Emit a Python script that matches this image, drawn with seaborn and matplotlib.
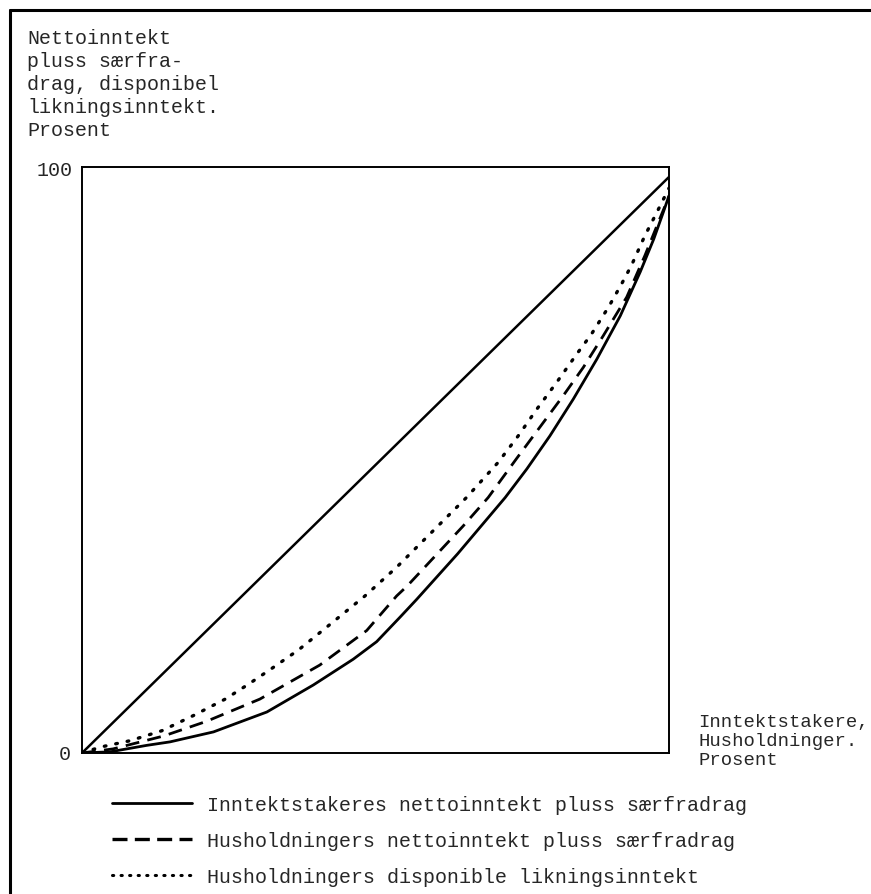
import matplotlib
matplotlib.use('Agg')
import matplotlib.pyplot as plt
import seaborn as sns
from matplotlib.lines import Line2D

# Lorenz curves, percent of earners/households vs percent of income
x_equal = [0, 100]
y_equal = [0, 98.3]

x_solid = [0, 4.8, 11.0, 15, 22.4, 31.5, 39.4, 46.2, 50.2, 54.2, 57.0, 64, 72.1, 75.8,
           79.7, 83.7, 87.7, 91.7, 95.1, 97.4, 99.0, 100]
y_solid = [0, 0.2, 1.3, 1.9, 3.6, 7.0, 11.6, 16.0, 19.0, 23.2, 26.2, 34.0, 43.6, 48.5,
           54.1, 60.4, 67.2, 74.6, 82.1, 87.7, 92.2, 95.1]

x_dash = [0, 5.3, 13.9, 21.2, 30.3, 40.5, 48.5, 53.6, 55.4, 64.9, 69.2, 74.0, 78.0,
          82.0, 85.4, 88.8, 92.8, 95.9, 98.2, 100]
y_dash = [0, 0.7, 2.9, 5.4, 9.2, 15.0, 20.9, 26.8, 28.5, 38.7, 43.6, 50.2, 55.6,
          61.0, 65.8, 71.2, 77.8, 84.9, 90.6, 95.0]

x_dot = [0, 3.1, 8.2, 13.6, 19.0, 24.4, 28.3, 32.0, 36.9, 42.2, 48.2, 53.6, 58.1, 65.5,
         70.9, 74.3, 77.5, 80.9, 84.3, 86.8, 89.7, 91.9, 93.6, 95.9, 97.9, 100]
y_dot = [0, 1.0, 2.1, 3.8, 6.4, 9.2, 11.7, 14.2, 17.6, 21.9, 26.8, 31.7, 36.2, 43.6,
         49.6, 54.1, 58.7, 63.3, 68.1, 71.5, 76.1, 80.0, 83.2, 88.3, 92.2, 96.4]

labels = ['Inntektstakeres nettoinntekt pluss særfradrag',
          'Husholdningers nettoinntekt pluss særfradrag',
          'Husholdningers disponible likningsinntekt']

sns.set_style('white')
plt.rcParams['font.family'] = ['Liberation Mono', 'DejaVu Sans Mono']
fs = 14.4

fig = plt.figure(figsize=(8.71, 8.95), dpi=100)
ax = fig.add_axes([82 / 871, 1 - 754 / 895, 587 / 871, 586 / 895])

sns.lineplot(x=x_equal, y=y_equal, ax=ax, color='black', lw=1.8)
sns.lineplot(x=x_solid, y=y_solid, ax=ax, color='black', lw=2.0)
sns.lineplot(x=x_dash, y=y_dash, ax=ax, color='black', lw=2.0, linestyle=(0, (5, 3)))
sns.lineplot(x=x_dot, y=y_dot, ax=ax, color='black', lw=2.4, linestyle=(0, (0.5, 3)),
             dash_capstyle='round')

ax.set_xlim(0, 100)
ax.set_ylim(0, 100)
ax.set_xticks([])
ax.set_yticks([])
for s in ax.spines.values():
    s.set_color('black')
    s.set_linewidth(1.4)

# axis texts
fig.text(73 / 871, 1 - 171 / 895, '100', ha='right', va='center', fontsize=fs)
fig.text(71 / 871, 1 - 755 / 895, '0', ha='right', va='center', fontsize=fs)
fig.text(27 / 871, 1 - 29 / 895,
         'Nettoinntekt\npluss særfra-\ndrag, disponibel\nlikningsinntekt.\nProsent',
         ha='left', va='top', fontsize=fs, linespacing=1.27)
fig.text(698 / 871, 1 - 714 / 895, 'Inntektstakere,\nHusholdninger.\nProsent',
         ha='left', va='top', fontsize=13.6, linespacing=1.15)

# legend
handles = [Line2D([], [], color='black', lw=2.0),
           Line2D([], [], color='black', lw=2.4, linestyle=(0, (4.5, 2.2))),
           Line2D([], [], color='black', lw=2.2, linestyle=(0, (0.4, 2.4)), dash_capstyle='round')]
fig.legend(handles, labels, loc='upper left', bbox_to_anchor=(112 / 871, 1 - 796 / 895),
           frameon=False, fontsize=fs, handlelength=4.0, handletextpad=0.75,
           labelspacing=0.85, borderpad=0, borderaxespad=0)

# outer frame of the page
fig.add_artist(Line2D([10 / 871, 10 / 871], [0, 1 - 11 / 895], color='black', lw=2.2,
                      transform=fig.transFigure))
fig.add_artist(Line2D([10 / 871, 1], [1 - 11 / 895, 1 - 11 / 895], color='black', lw=2.2,
                      transform=fig.transFigure))

fig.savefig('out.png', dpi=100)
